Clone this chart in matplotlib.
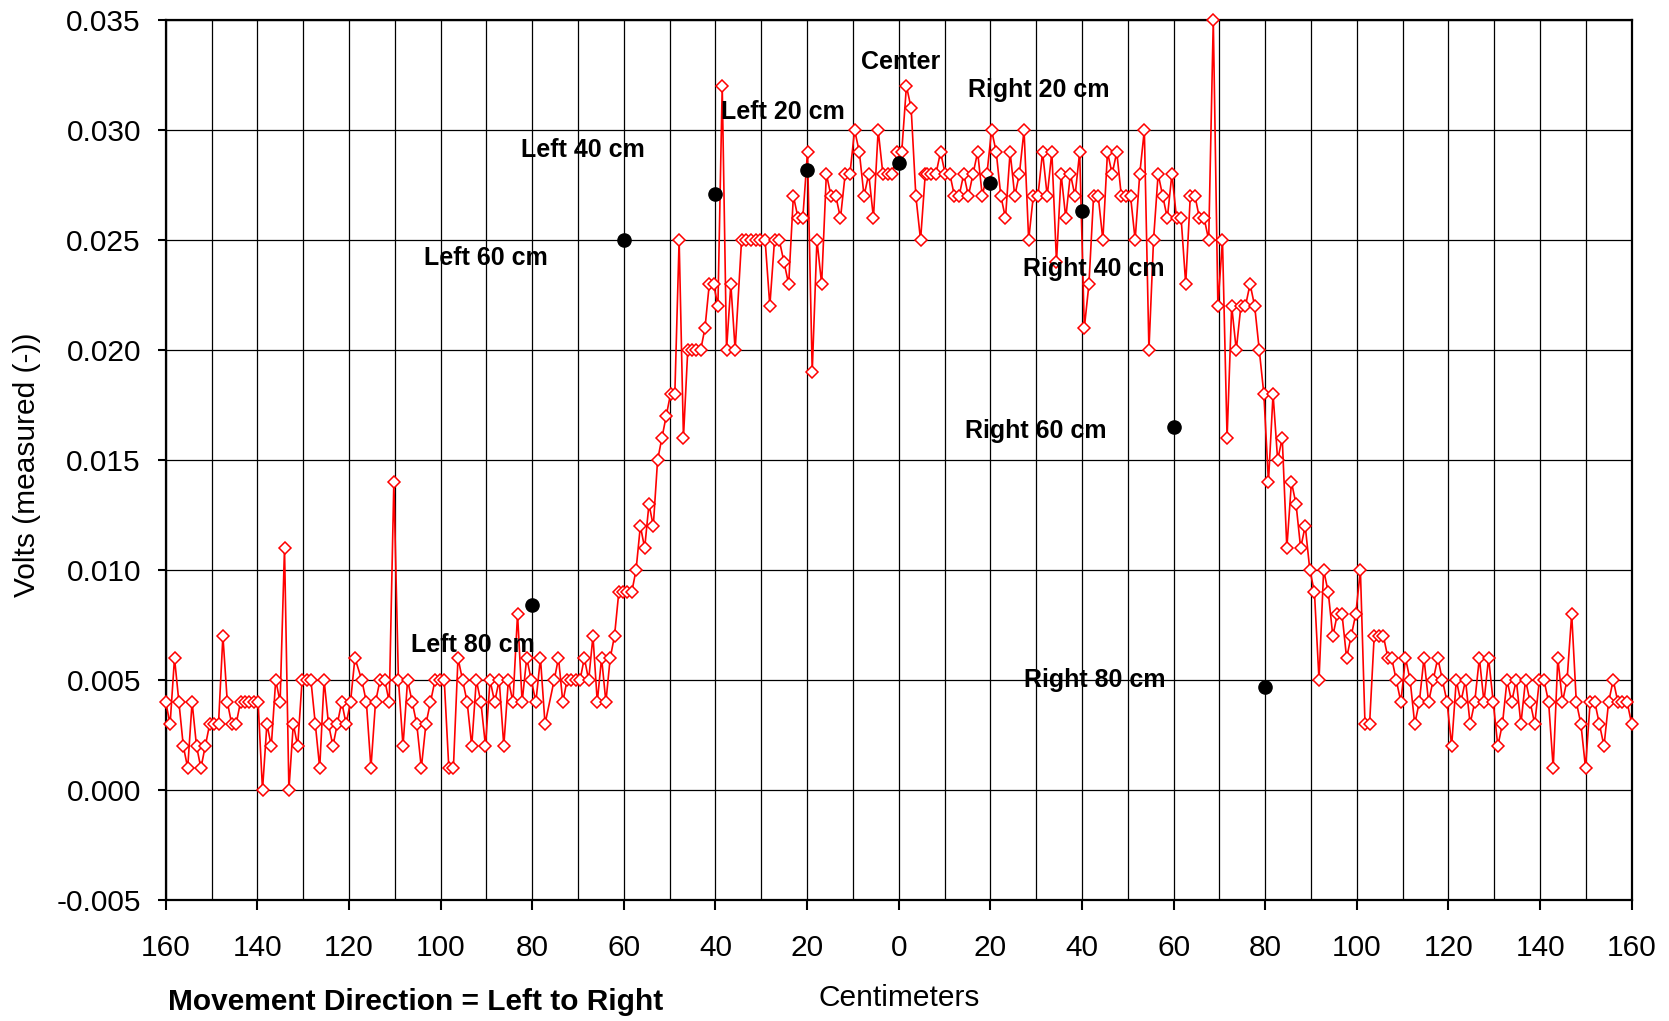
import numpy as np
import matplotlib
matplotlib.use('Agg')
import matplotlib.pyplot as plt
from matplotlib.ticker import FuncFormatter, MultipleLocator

plt.rcParams['font.family'] = ['Liberation Sans', 'DejaVu Sans']

# measured signal, in thousandths of a volt, read left to right, one list per stretch
left_tail = [4, 3, 6, 4, 2, 1, 4, 2, 1, 2, 3, 3, 3, 7, 4, 3, 3, 4, 4, 4, 4, 4, 0, 3, 2, 5, 4, 11, 0, 3,
             2, 5, 5, 5, 3, 1, 5, 3, 2, 3, 4, 3, 4, 6]
left_noise = [5, 4, 1, 4, 5, 5, 4, 14, 5, 2, 5, 4, 3, 1, 3, 4, 5, 5, 5, 1, 1, 6, 5, 4, 2, 5, 4, 2, 5, 4,
              5, 2, 5, 4, 8, 4, 6, 5, 4, 6, 3]
rise = [5, 6, 4, 5, 5, 5, 5, 6, 5, 7, 4, 6, 4, 6, 7, 9, 9, 9, 9, 10, 12, 11, 13, 12, 15, 16, 17, 18, 18, 25,
        16, 20, 20, 20, 20, 21, 23, 23, 22, 32, 20, 23, 20]
plateau_left = [25, 25, 25, 25, 25, 25, 22, 25, 25, 24, 23, 27, 26, 26, 29, 19, 25, 23, 28, 27, 27, 26, 28, 28,
                30, 29, 27, 28, 26, 30, 28, 28, 28, 29, 29, 32, 31, 27, 25, 28]
plateau_right = [28, 28, 28, 29, 28, 28, 27, 27, 28, 27, 28, 29, 27, 28, 30, 29, 27, 26, 29, 27, 28, 30, 25, 27,
                 27, 29, 27, 29, 24, 28, 26, 28, 27, 29, 21, 23, 27, 27, 25, 29, 28, 29]
fall = [27, 27, 27, 25, 28, 30, 20, 25, 28, 27, 26, 28, 26, 26, 23, 27, 27, 26, 26, 25, 35, 22, 25, 16, 22,
        20, 22, 22, 23, 22, 20, 18, 14, 18, 15, 16, 11, 14, 13, 11, 12, 10, 9, 5, 10, 9, 7, 8, 8, 6, 7, 8,
        10, 3, 3, 7, 7, 7, 6]
right_tail = [6, 5, 4, 6, 5, 3, 4, 6, 4, 5, 6, 5, 4, 2, 5, 4, 5, 3, 4, 6, 4, 6, 4, 2, 3, 5, 4, 5, 3, 5, 4, 3,
              5, 5, 4, 1, 6, 4, 5, 8, 4, 3, 1, 4, 4, 3, 2, 4, 5, 4, 4, 4, 3]
stretches = [left_tail, left_noise, rise, plateau_left, plateau_right, fall, right_tail]
# first and last position (cm) of each stretch
stretch_cm = [(-160, -118.7), (-117.2, -77.2), (-75.2, -35.7), (-34.3, 5.8),
              (6.1, 47.6), (48.6, 106.8), (107.6, 160)]

cm = np.concatenate([np.linspace(a, b, len(s)) for s, (a, b) in zip(stretches, stretch_cm)])
volts = np.concatenate([np.array(s) / 1000.0 for s in stretches])

# calibration points
cal_cm = [-80, -60, -40, -20, 0, 20, 40, 60, 80]
cal_volts = [0.0084, 0.0250, 0.0271, 0.0282, 0.0285, 0.0276, 0.0263, 0.0165, 0.0047]
cal_names = ['Left 80 cm', 'Left 60 cm', 'Left 40 cm', 'Left 20 cm', 'Center',
             'Right 20 cm', 'Right 40 cm', 'Right 60 cm', 'Right 80 cm']
name_spots = [(-92.9, 0.0066), (-90.1, 0.0242), (-68.9, 0.0291), (-25.3, 0.0308), (0.5, 0.0331),
              (30.6, 0.0318), (42.6, 0.0237), (30.0, 0.0163), (42.8, 0.0050)]

W, H = 1669, 1021
fig = plt.figure(figsize=(W / 100, H / 100), dpi=100)
ax = fig.add_axes([165.7 / W, 1 - 900 / H, (1631.7 - 165.7) / W, (900 - 20) / H])

ax.plot(cm, volts, color='#ff0000', lw=1.2, marker='D', ms=6, mfc='white', mec='#ff0000', mew=1.1,
        clip_on=False, zorder=3)
ax.plot(cal_cm, cal_volts, 'o', color='black', ms=9.5, zorder=4)
for name, (tx, ty) in zip(cal_names, name_spots):
    ax.text(tx, ty, name, ha='center', va='center', fontsize=18, fontweight='bold', zorder=5)

ax.set_xlim(-160, 160)
ax.set_ylim(-0.005, 0.035)
ax.xaxis.set_major_locator(MultipleLocator(20))
ax.xaxis.set_minor_locator(MultipleLocator(10))
ax.yaxis.set_major_locator(MultipleLocator(0.005))
ax.xaxis.set_major_formatter(FuncFormatter(lambda v, p: '%d' % abs(round(v))))
ax.yaxis.set_major_formatter(FuncFormatter(lambda v, p: '%.3f' % v))

ax.grid(True, which='major', color='black', lw=0.9)
ax.grid(True, which='minor', axis='x', color='black', lw=0.9)
ax.set_axisbelow(True)
ax.tick_params(axis='x', which='major', direction='out', length=7.2, width=1.5, pad=17, labelsize=21.5)
ax.tick_params(axis='x', which='minor', length=0)
ax.tick_params(axis='y', which='major', direction='out', length=5.8, width=1.5, pad=12, labelsize=21.5)
for s in ax.spines.values():
    s.set_linewidth(1.6)
    s.set_color('black')

fig.text(27 / W, 1 - 465 / H, 'Volts (measured (-))', rotation=90, ha='center', va='center', fontsize=21.5)
fig.text(899.5 / W, 1 - 998 / H, 'Centimeters', ha='center', va='center', fontsize=21.5)
fig.text(168 / W, 1 - 1002 / H, 'Movement Direction = Left to Right', ha='left', va='center',
         fontsize=21.5, fontweight='bold')

fig.savefig('out.png', dpi=100)
